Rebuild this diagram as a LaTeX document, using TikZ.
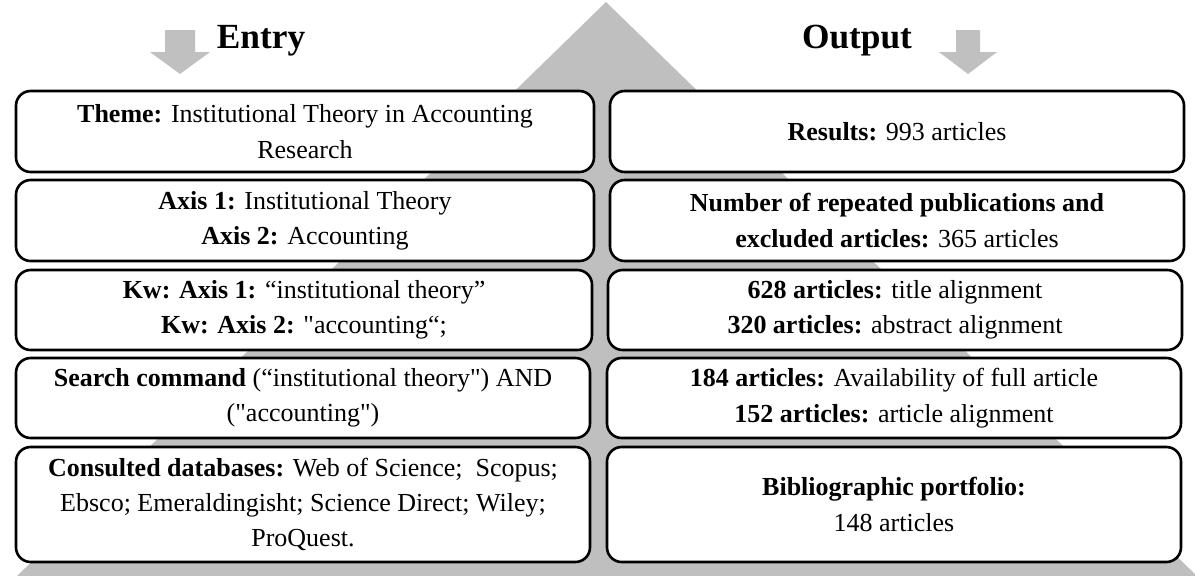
\documentclass[tikz,border=0pt]{standalone}
\usepackage{fontspec}
\setmainfont{Liberation Serif}[Ligatures=TeXOff]
\definecolor{tri}{RGB}{191,191,191}
\definecolor{arr}{RGB}{192,192,192}
\tikzset{
  box/.style={draw=black, line width=1.95pt, rounded corners=11pt, fill=white,
    inner sep=0pt, align=center, font=\fontsize{19.5}{26.5}\selectfont},
  head/.style={font=\fontsize{26.5}{31}\selectfont\bfseries, inner sep=0pt},
  bw/.style={minimum width=#1*0.75pt},
  bh/.style={minimum height=#1*0.75pt},
}
\begin{document}
\begin{tikzpicture}[x=0.75pt,y=-0.75pt]
\useasboundingbox (0,0) rectangle (1195,575);
\begin{scope}
\clip (0,0) rectangle (1195,575);
\fill[tri] (606,2) -- (1198,577) -- (16,577) -- cycle;
\end{scope}
% arrows
\fill[arr] (165,30) -- (195,30) -- (195,52) -- (210,52) -- (180,74) -- (150,52) -- (165,52) -- cycle;
\fill[arr] (956,30) -- (980,30) -- (980,52) -- (997,52) -- (968,74) -- (939,52) -- (956,52) -- cycle;
% headings
\node[head] (entry) at (261,41) {Entry};
\node[head] (output) at (857,41) {Output};
% left boxes
\node[box, bw=578, bh=81] (l1) at (305,131.5)
  {\textbf{Theme:} Institutional Theory in Accounting\\Research};
\node[box, bw=578, bh=81] (l2) at (305,220.5)
  {\textbf{Axis 1:} Institutional Theory\\\textbf{Axis 2:} Accounting};
\node[box, bw=576, bh=80] (l3) at (304,310)
  {\textbf{Kw: Axis 1:} “institutional theory”\\\textbf{Kw: Axis 2:} "accounting“;};
\node[box, bw=574, bh=80] (l4) at (303,398)
  {\textbf{Search command} (“institutional theory") AND\\("accounting")};
\node[box, bw=574, bh=115] (l5) at (303,504.5)
  {\textbf{Consulted databases:} Web of Science;\ \ Scopus;\\Ebsco; Emeraldingisht; Science Direct; Wiley;\\ProQuest.};
% right boxes
\node[box, bw=574, bh=81] (r1) at (897,131.5)
  {\textbf{Results:} 993 articles};
\node[box, bw=574, bh=81] (r2) at (897,220.5)
  {\textbf{Number of repeated publications and}\\\textbf{excluded articles:} 365 articles};
\node[box, bw=574, bh=80] (r3) at (895,310)
  {\textbf{628 articles:} title alignment\\\textbf{320 articles:} abstract alignment};
\node[box, bw=574, bh=80] (r4) at (894,398)
  {\textbf{184 articles:} Availability of full article\\\textbf{152 articles:} article alignment};
\node[box, bw=574, bh=115] (r5) at (894,504.5)
  {\textbf{Bibliographic portfolio:}\\148 articles};
\end{tikzpicture}
\end{document}
